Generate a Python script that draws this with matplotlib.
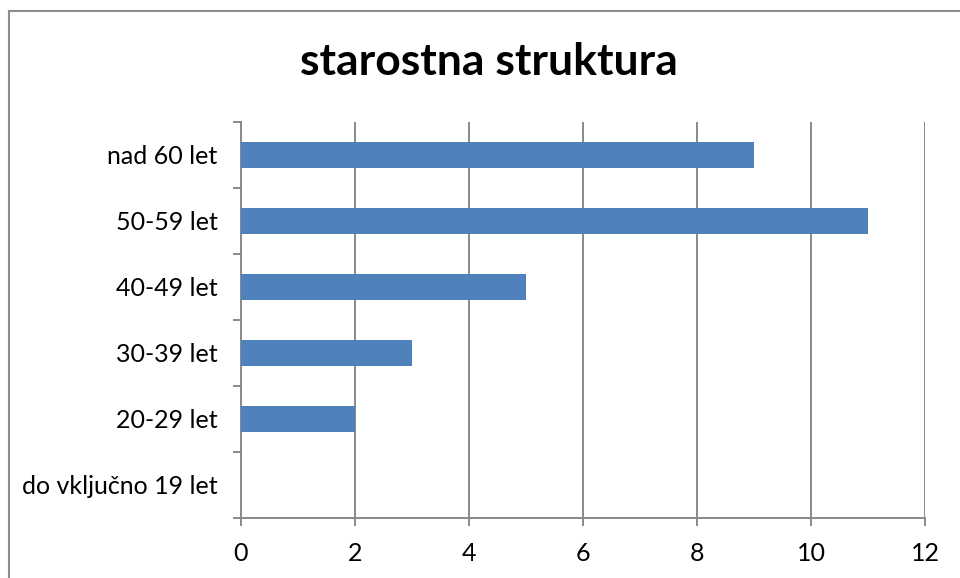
import matplotlib.pyplot as plt
import matplotlib.patches as patches
import numpy as np

# age groups, bottom to top as drawn
categories = ["do vključno 19 let", "20-29 let", "30-39 let", "40-49 let", "50-59 let", "nad 60 let"]
counts = [0, 2, 3, 5, 11, 9]
x_ticks = [0, 2, 4, 6, 8, 10, 12]

plt.rcParams["font.family"] = ["Lato", "DejaVu Sans"]

fig = plt.figure(figsize=(9.6, 5.78), dpi=100)
ax = fig.add_axes([241 / 960, 60 / 578, 684 / 960, 396 / 578])

pos = np.arange(len(categories))
ax.barh(pos, counts, height=0.4, color="#4F81BD", zorder=3)

ax.set_xlim(0, 12)
ax.set_ylim(-0.5, len(categories) - 0.5)
ax.set_xticks(x_ticks)
ax.set_yticks(pos)
ax.set_yticklabels(categories)
ax.set_yticks(np.arange(-0.5, len(categories)), minor=True)

grid_col = "#898989"
ax.grid(axis="x", color=grid_col, lw=1.4, zorder=0)
for s in ["top", "right"]:
    ax.spines[s].set_visible(False)
for s in ["left", "bottom"]:
    ax.spines[s].set_color(grid_col)
    ax.spines[s].set_linewidth(1.4)

ax.tick_params(axis="x", length=6, width=1.4, color=grid_col, labelsize=18, pad=11)
ax.tick_params(axis="y", which="major", length=0, labelsize=18, pad=17)
ax.tick_params(axis="y", which="minor", length=6, width=1.4, color=grid_col)

fig.text(489 / 960, 1 - 62 / 578, "starostna struktura", ha="center", va="center",
         fontsize=32, fontweight="bold")

# outer chart border (cut off at right and bottom)
fig.patches.append(patches.Rectangle((8.5 / 960, -0.1), 1.2, 1.1 - 11.5 / 578,
                                     transform=fig.transFigure, fill=False,
                                     edgecolor="#8c8c8c", lw=1.5))

fig.savefig("out.png", dpi=100, facecolor="white")
